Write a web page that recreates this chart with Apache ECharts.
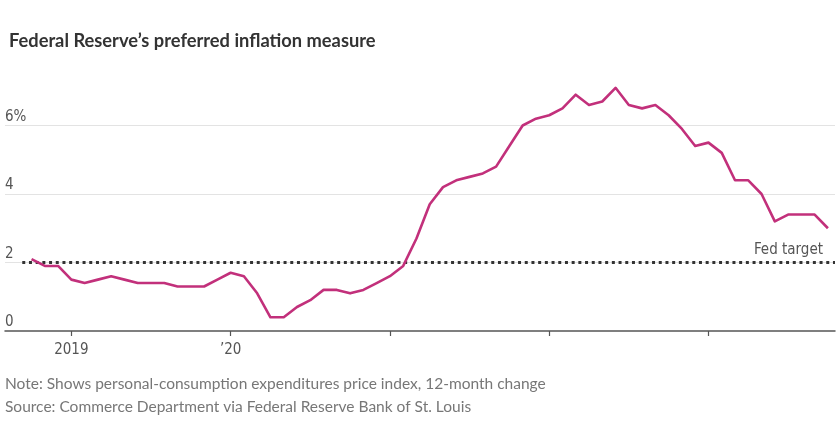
<!DOCTYPE html>
<html>
<head>
<meta charset="utf-8">
<script src="https://cdn.jsdelivr.net/npm/echarts@6/dist/echarts.min.js"></script>
<style>
html,body{margin:0;padding:0;background:#fff;}
#chart{width:840px;height:440px;}
</style>
</head>
<body>
<div id="chart"></div>
<script>
// ---- Data ----
const months = [
  '2018-10','2018-11','2018-12',
  '2019-01','2019-02','2019-03','2019-04','2019-05','2019-06','2019-07','2019-08','2019-09','2019-10','2019-11','2019-12',
  '2020-01','2020-02','2020-03','2020-04','2020-05','2020-06','2020-07','2020-08','2020-09','2020-10','2020-11','2020-12',
  '2021-01','2021-02','2021-03','2021-04','2021-05','2021-06','2021-07','2021-08','2021-09','2021-10','2021-11','2021-12',
  '2022-01','2022-02','2022-03','2022-04','2022-05','2022-06','2022-07','2022-08','2022-09','2022-10','2022-11','2022-12',
  '2023-01','2023-02','2023-03','2023-04','2023-05','2023-06','2023-07','2023-08','2023-09','2023-10'
];
const pceChange = [
  2.1,1.9,1.9,
  1.5,1.4,1.5,1.6,1.5,1.4,1.4,1.4,1.3,1.3,1.3,1.5,
  1.7,1.6,1.1,0.4,0.4,0.7,0.9,1.2,1.2,1.1,1.2,1.4,
  1.6,1.9,2.7,3.7,4.2,4.4,4.5,4.6,4.8,5.4,6.0,6.2,
  6.3,6.5,6.9,6.6,6.7,7.1,6.6,6.5,6.6,6.3,5.9,5.4,
  5.5,5.2,4.4,4.4,4.0,3.2,3.4,3.4,3.4,3.0
];
const yearTicks = ['2019-01','2020-01','2021-01','2022-01','2023-01'];
const yearLabels = {'2019-01':'2019','2020-01':'\u201920'};
const fedTarget = 2;
const fedTargetSpan = ['2018-09-10','2023-10-17'];
const yTicks = [0,2,4,6];

// month string -> months since Jan 2019 (fractional day allowed)
function mIdx(s){
  const p = s.split('-').map(Number);
  let v = (p[0]-2019)*12 + (p[1]-1);
  if (p[2]) v += (p[2]-1)/30;
  return v;
}
const xMin = mIdx('2018-08');
const xMax = mIdx('2023-10-17');

const narrow = "'Liberation Sans Narrow','DejaVu Sans Condensed',sans-serif";

const chart = echarts.init(document.getElementById('chart'), null, {renderer:'canvas'});
chart.setOption({
  animation:false,
  backgroundColor:'#fff',
  title:{
    text:'Federal Reserve\u2019s preferred inflation measure',
    left:4, top:27,
    textStyle:{fontFamily:'Lato', fontWeight:700, fontSize:18.3, color:'#333'}
  },
  grid:{left:5, right:5, top:57, bottom:109, containLabel:false},
  xAxis:{
    type:'value', min:xMin, max:xMax,
    splitLine:{show:false},
    axisLine:{show:true, lineStyle:{color:'#555', width:1.5}},
    axisTick:{show:true, length:5, customValues:yearTicks.map(mIdx), lineStyle:{color:'#555', width:1.2}},
    axisLabel:{
      customValues:Object.keys(yearLabels).map(mIdx),
      formatter:function(v){
        for (const k in yearLabels){ if (Math.abs(mIdx(k)-v)<0.01) return yearLabels[k]; }
        return '';
      },
      margin:12, fontFamily:narrow, fontSize:15, color:'#555'
    }
  },
  yAxis:{
    type:'value', min:0, max:8, interval:2,
    axisLine:{show:false}, axisTick:{show:false},
    splitLine:{show:true, showMaxLine:false, showMinLine:false, lineStyle:{color:'#e3e3e3', width:1}},
    axisLabel:{
      inside:true,
      customValues:yTicks,
      formatter:function(v){return v===6?'6%':String(v);},
      verticalAlign:'bottom', align:'left', padding:[0,0,1,0], margin:0,
      fontFamily:narrow, fontSize:15, color:'#555'
    }
  },
  series:[
    {
      type:'line', name:'Fed target',
      data:fedTargetSpan.map(function(m){return [mIdx(m), fedTarget];}),
      symbol:'none', silent:true,
      lineStyle:{color:'#333', width:3, type:[3,3.7], cap:'butt'},
      z:1
    },
    {
      type:'line', name:'PCE',
      data:months.map(function(m,i){return [mIdx(m), pceChange[i]];}),
      symbol:'none',
      lineStyle:{color:'#c2307b', width:2.6, join:'round'},
      z:3
    }
  ],
  graphic:[
    {type:'text', right:17, top:243, style:{text:'Fed target', font:"15px "+narrow, fill:'#555'}},
    {type:'text', left:5, top:376, style:{text:'Note: Shows personal-consumption expenditures price index, 12-month change', font:"15.5px 'Lato'", fill:'#777'}},
    {type:'text', left:5, top:399, style:{text:'Source: Commerce Department via Federal Reserve Bank of St. Louis', font:"15.5px 'Lato'", fill:'#777'}}
  ]
});
</script>
</body>
</html>
